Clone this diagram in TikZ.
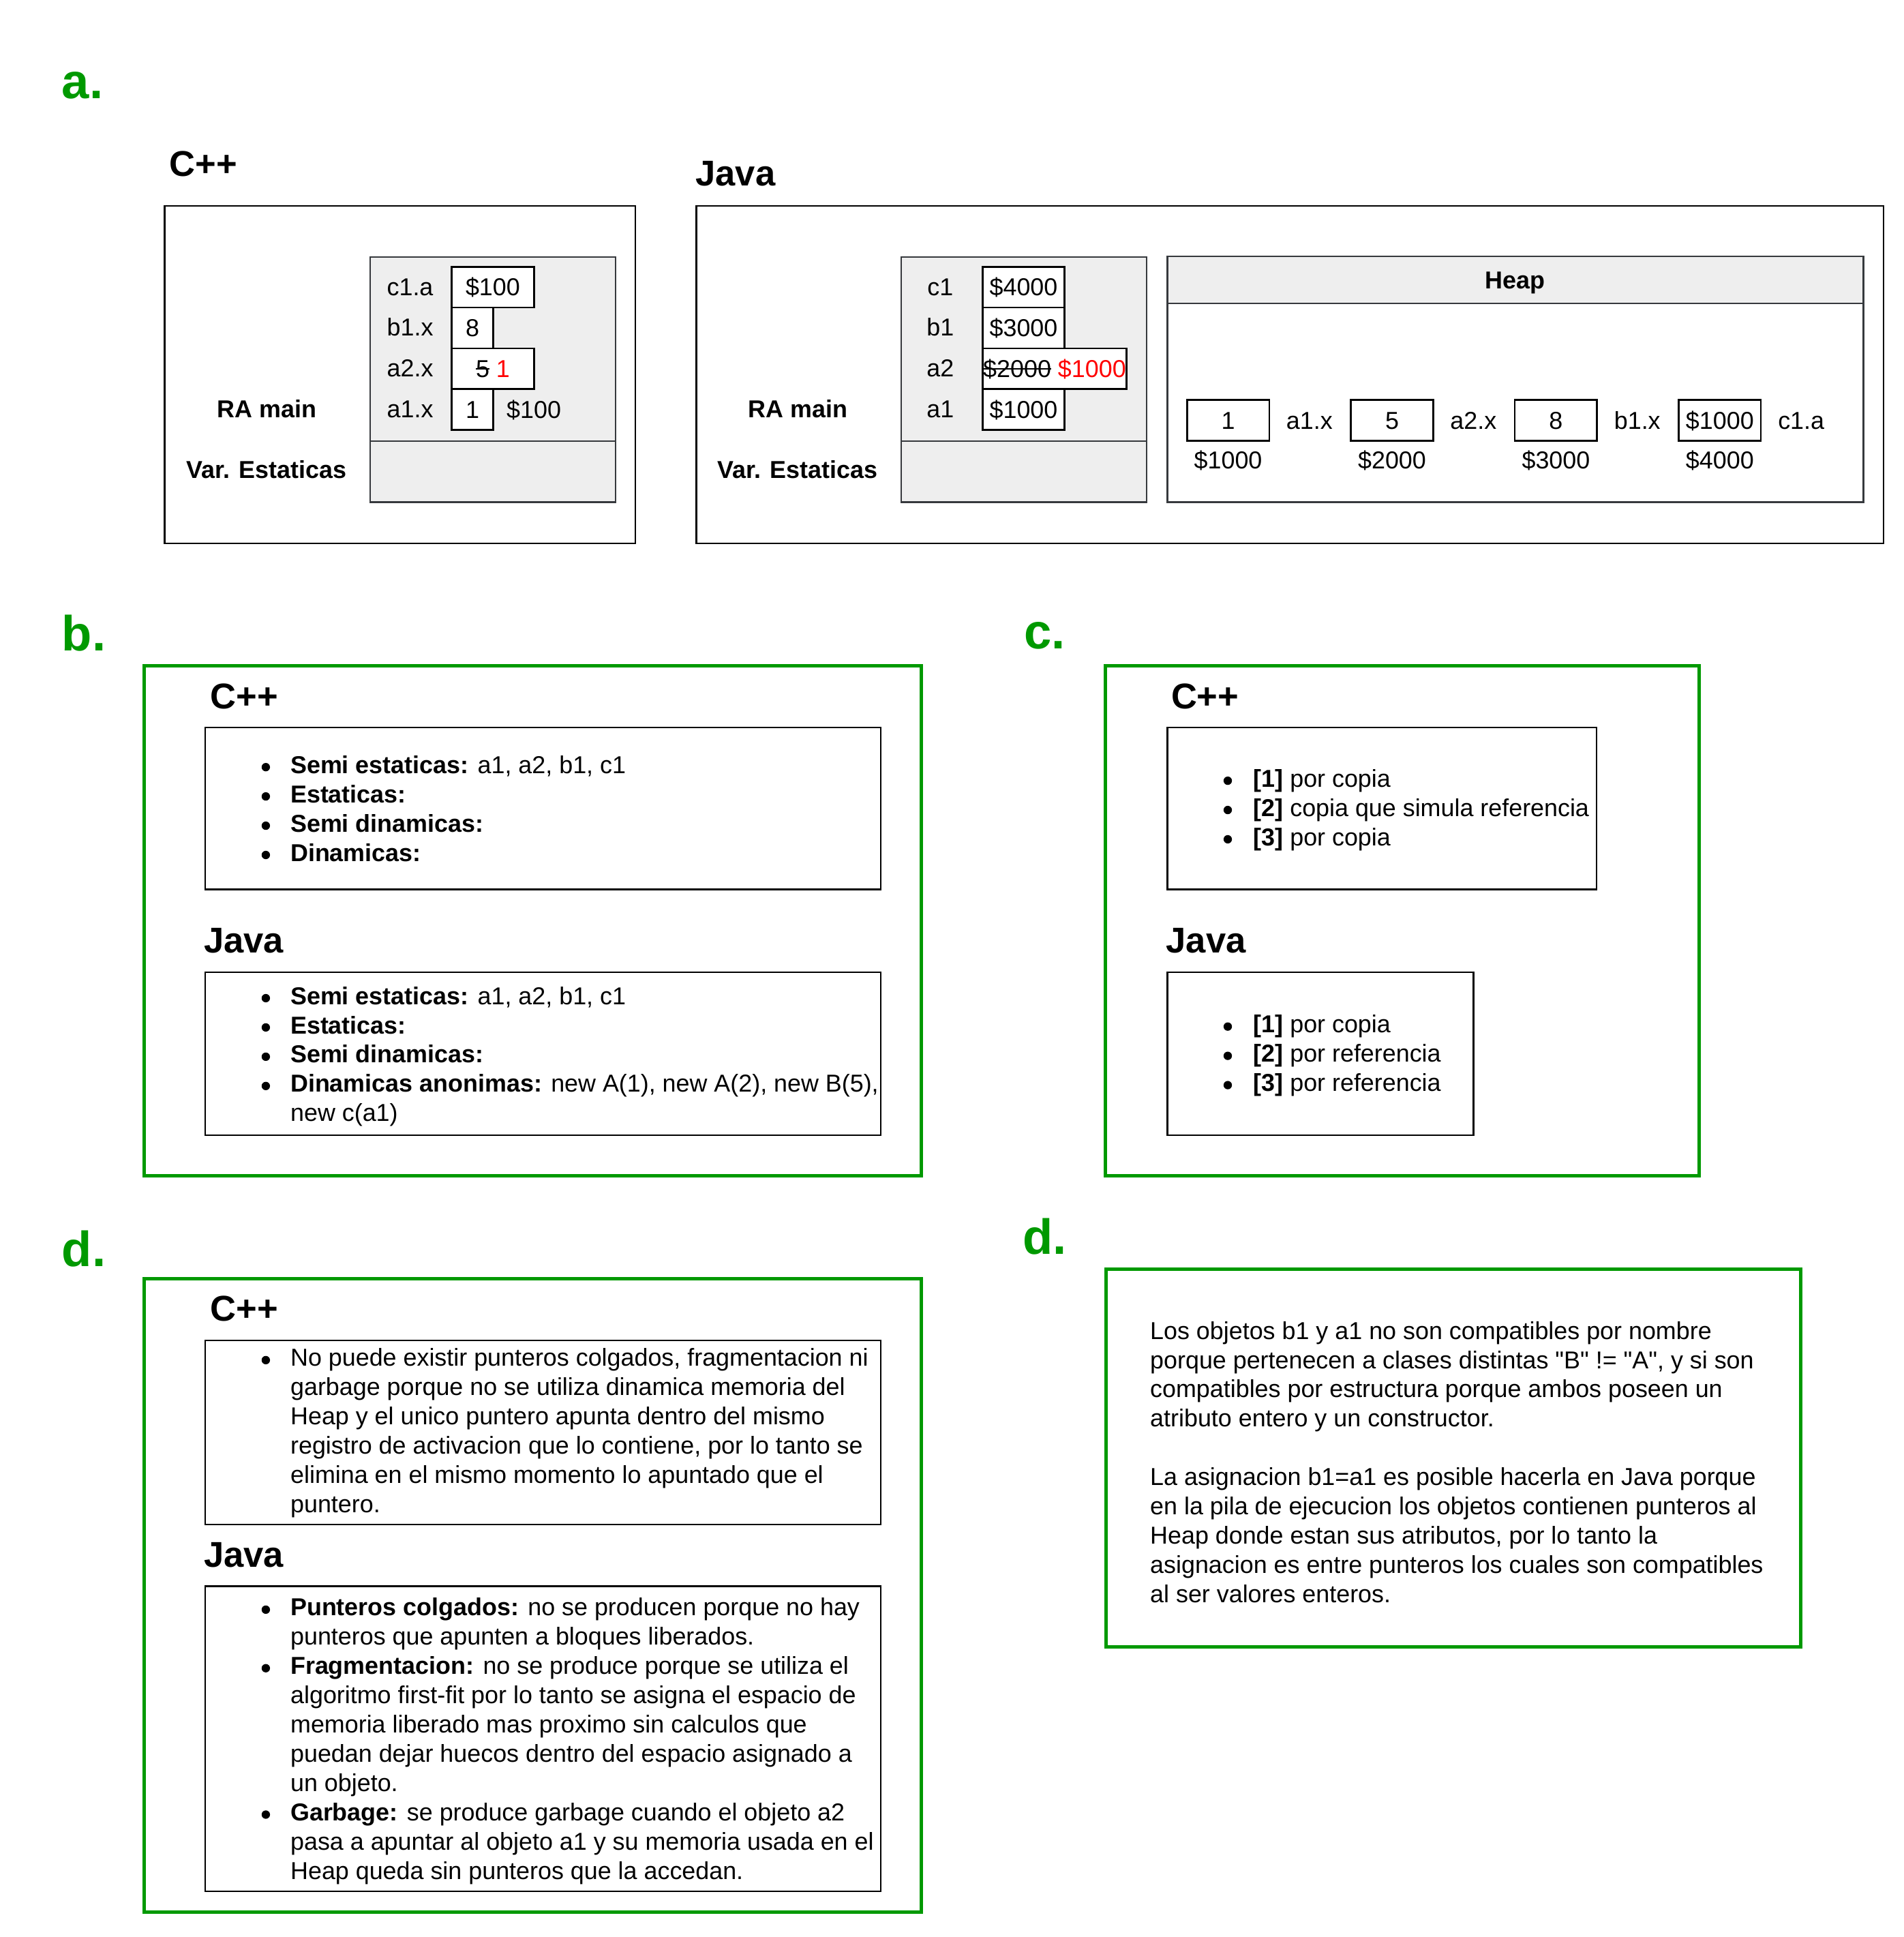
\documentclass[tikz,border=0pt]{standalone}
\usepackage{fontspec}
\setmainfont{Liberation Sans}
\usetikzlibrary{positioning}
\definecolor{verde}{HTML}{009900}
\definecolor{grisfondo}{HTML}{EEEEEE}
\definecolor{grisborde}{HTML}{36393D}
\newlength\largotach
\newcommand\tachado[1]{\settowidth\largotach{#1}\rlap{\rule[0.31em]{\largotach}{1.2pt}}#1}
\newcommand\letranormal{\fontsize{19.8}{23.7}\selectfont}
\tikzset{
  texto/.style={font=\letranormal, inner sep=0pt, text height=14pt, text depth=0pt},
  celda/.style={texto, draw, fill=white, line width=1.4pt, minimum height=33pt},
  lista/.style={font=\letranormal, inner sep=0pt, anchor=base west},
  titulo/.style={font=\fontsize{29}{34}\selectfont\bfseries, inner sep=0pt, anchor=base west},
  letra/.style={font=\fontsize{40}{48}\selectfont\bfseries, text=verde, inner sep=0pt, anchor=base west},
  marco/.style={draw=verde, line width=2.8pt},
  caja/.style={draw, line width=1.4pt},
  pila/.style={draw=grisborde, fill=grisfondo, line width=1.4pt},
}

\begin{document}
\begin{tikzpicture}[x=1pt, y=-1pt]
\useasboundingbox (0,0) rectangle (1541.5,1568);

% a.
\node[letra] (la) at (50,79.5) {a.};
\node[titulo] (tca) at (137,142.5) {C++};
\node[titulo] (tja) at (563,150.5) {Java};
\draw[caja] (133.3,166.6) rectangle (514.5,439.9);
\draw[caja] (563.7,166.6) rectangle (1525,439.9);

\draw[pila] (299.7,208) rectangle (498.5,357) (299.7,357) rectangle (498.5,406.4);
\draw[pila] (729.6,208) rectangle (928.4,357) (729.6,357) rectangle (928.4,406.4);

\node[texto] (rac) at (216,331.3) {\bfseries RA main};
\node[texto] (vec) at (215.6,380.4) {\bfseries Var. Estaticas};
\node[texto] (raj) at (646,331.3) {\bfseries RA main};
\node[texto] (vej) at (645.8,380.4) {\bfseries Var. Estaticas};

\foreach \t [count=\i] in {c1.a,b1.x,a2.x,a1.x}
  \node[texto] (nc\i) at (332,199+33*\i) {\t};
\foreach \t [count=\i] in {c1,b1,a2,a1}
  \node[texto] (nj\i) at (761.3,199+33*\i) {\t};

\node[celda, minimum width=66.7] (vc1) at (399,232.5) {\$100};
\node[celda, minimum width=33.6] (vc2) at (382.5,265.5) {8};
\node[celda, minimum width=66.7] (vc3) at (399,298.5) {\tachado{5} \textcolor{red}{1}};
\node[celda, minimum width=33.6] (vc4) at (382.5,331.5) {1};
\node[texto, right=10pt of vc4] (dir) {\$100};

\node[celda, minimum width=66.2] (vj1) at (828.7,232.5) {\$4000};
\node[celda, minimum width=66.2] (vj2) at (828.7,265.5) {\$3000};
\node[celda, minimum width=116.4] (vj3) at (853.8,298.5) {\tachado{\$2000} \textcolor{red}{\$1000}};
\node[celda, minimum width=66.2] (vj4) at (828.7,331.5) {\$1000};

\draw[pila] (945.2,207.5) rectangle (1508.5,245.7);
\draw[pila, fill=white] (945.2,245.7) rectangle (1508.5,406.5);
\node[texto] (heap) at (1226.8,226.6) {\bfseries Heap};
\foreach \v/\n/\d [count=\i] in {1/a1.x/\$1000, 5/a2.x/\$2000, 8/b1.x/\$3000, \$1000/c1.a/\$4000} {
  \node[celda, minimum width=66.5] (h\i) at (861.6+132.7*\i,340.3) {\v};
  \node[texto, right=13pt of h\i] (hn\i) {\n};
  \node[texto, below=8pt of h\i] (hd\i) {\d};
}

% b.
\node[letra] (lb) at (50,527) {b.};
\draw[marco] (116.7,539) rectangle (746,952);
\node[titulo] (tcb) at (170,573.5) {C++};
\draw[caja] (166,589) rectangle (713,720);
\node[lista] (lcb) at (235,626) {\begin{tabular}[t]{@{}l@{}}
\textbf{Semi estaticas:} a1, a2, b1, c1\\
\textbf{Estaticas:}\\
\textbf{Semi dinamicas:}\\
\textbf{Dinamicas:}
\end{tabular}};
\node[titulo] (tjb) at (165,771.5) {Java};
\draw[caja] (166,787) rectangle (713,919);
\node[lista] (ljb) at (235,813) {\begin{tabular}[t]{@{}l@{}}
\textbf{Semi estaticas:} a1, a2, b1, c1\\
\textbf{Estaticas:}\\
\textbf{Semi dinamicas:}\\
\textbf{Dinamicas anonimas:} new A(1), new A(2), new B(5),\\
new c(a1)
\end{tabular}};
\foreach \y in {626,813}
  \foreach \k in {0,1,2,3}
    \fill (215.2,\y-5+23.7*\k) circle (3.4pt);

% c.
\node[letra] (lc) at (829,525) {c.};
\draw[marco] (895,539) rectangle (1375.5,952);
\node[titulo] (tcc) at (948,573.5) {C++};
\draw[caja] (945,589) rectangle (1292.5,720);
\node[lista] (lcc) at (1014.5,637) {\begin{tabular}[t]{@{}l@{}}
\textbf{[1]} por copia\\
\textbf{[2]} copia que simula referencia\\
\textbf{[3]} por copia
\end{tabular}};
\node[titulo] (tjc) at (944,771.5) {Java};
\draw[caja] (945,787) rectangle (1193,919);
\node[lista] (ljc) at (1014.5,836) {\begin{tabular}[t]{@{}l@{}}
\textbf{[1]} por copia\\
\textbf{[2]} por referencia\\
\textbf{[3]} por referencia
\end{tabular}};
\foreach \y in {637,836}
  \foreach \k in {0,1,2}
    \fill (994,\y-5+23.7*\k) circle (3.4pt);

% d.
\node[letra] (ld1) at (50,1025) {d.};
\draw[marco] (116.7,1035) rectangle (746,1548);
\node[titulo] (tcd) at (170,1069.5) {C++};
\draw[caja] (166,1085) rectangle (713,1234);
\node[lista] (lcd) at (235,1106) {\begin{tabular}[t]{@{}l@{}}
No puede existir punteros colgados, fragmentacion ni\\
garbage porque no se utiliza dinamica memoria del\\
Heap y el unico puntero apunta dentro del mismo\\
registro de activacion que lo contiene, por lo tanto se\\
elimina en el mismo momento lo apuntado que el\\
puntero.
\end{tabular}};
\node[titulo] (tjd) at (165,1268.5) {Java};
\draw[caja] (166,1284) rectangle (713,1531);
\node[lista] (ljd) at (235,1308) {\begin{tabular}[t]{@{}l@{}}
\textbf{Punteros colgados:} no se producen porque no hay\\
punteros que apunten a bloques liberados.\\
\textbf{Fragmentacion:} no se produce porque se utiliza el\\
algoritmo first-fit por lo tanto se asigna el espacio de\\
memoria liberado mas proximo sin calculos que\\
puedan dejar huecos dentro del espacio asignado a\\
un objeto.\\
\textbf{Garbage:} se produce garbage cuando el objeto a2\\
pasa a apuntar al objeto a1 y su memoria usada en el\\
Heap queda sin punteros que la accedan.
\end{tabular}};
\fill (215.2,1101) circle (3.4pt);
\foreach \k in {0,2,7}
  \fill (215.2,1303+23.7*\k) circle (3.4pt);

\node[letra] (ld2) at (828,1015.5) {d.};
\draw[marco] (895.4,1027.5) rectangle (1458,1333);
\node[lista] (txd) at (931,1084) {\begin{tabular}[t]{@{}l@{}}
Los objetos b1 y a1 no son compatibles por nombre\\
porque pertenecen a clases distintas \textquotedbl B\textquotedbl\ != \textquotedbl A\textquotedbl, y si son\\
compatibles por estructura porque ambos poseen un\\
atributo entero y un constructor.\\
\\
La asignacion b1=a1 es posible hacerla en Java porque\\
en la pila de ejecucion los objetos contienen punteros al\\
Heap donde estan sus atributos, por lo tanto la\\
asignacion es entre punteros los cuales son compatibles\\
al ser valores enteros.
\end{tabular}};
\end{tikzpicture}
\end{document}
